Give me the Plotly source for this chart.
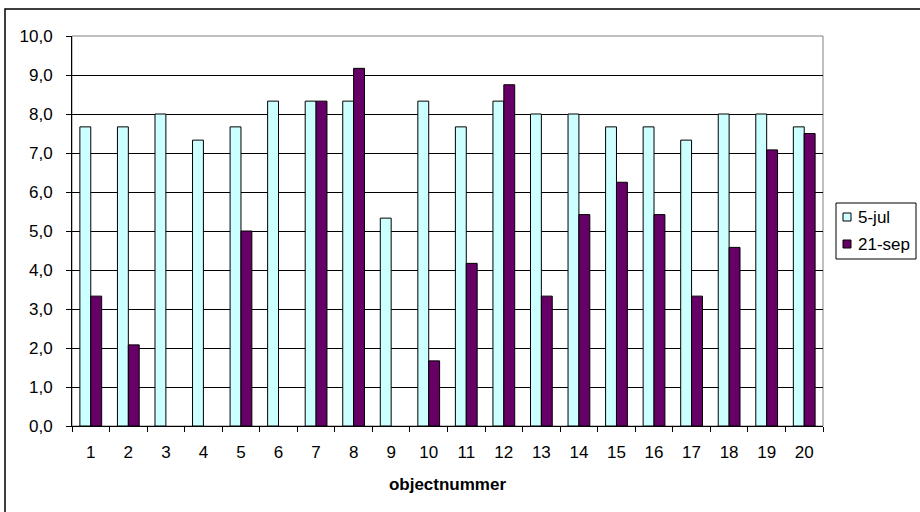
import plotly.graph_objects as go

# Objectnummers en scores per meetdatum
objecten = [str(i) for i in range(1, 21)]
jul_5 = [7.67, 7.67, 8.0, 7.33, 7.67, 8.33, 8.33, 8.33, 5.33, 8.33,
         7.67, 8.33, 8.0, 8.0, 7.67, 7.67, 7.33, 8.0, 8.0, 7.67]
sep_21 = [3.33, 2.08, None, None, 5.0, None, 8.33, 9.17, None, 1.67,
          4.17, 8.75, 3.33, 5.42, 6.25, 5.42, 3.33, 4.58, 7.08, 7.5]
y_ticks = [0, 1, 2, 3, 4, 5, 6, 7, 8, 9, 10]
series_names = ["5-jul", "21-sep"]
series_colors = ["#CCFFFF", "#660066"]

FONT = "Liberation Sans, Arial, sans-serif"
FS = 17

# plot area in pixels
L, R, T, B = 72, 823, 36, 426
W, H = R - L, B - T


def px(x):
    return (x - L) / W


def py(y):
    return (B - y) / H


fig = go.Figure()
for name, vals, col in zip(series_names, [jul_5, sep_21], series_colors):
    fig.add_trace(go.Bar(x=objecten, y=vals, name=name, showlegend=False,
                         marker=dict(color=col, line=dict(color="#000000", width=1))))

shapes = [
    # plot area border
    dict(type="rect", xref="paper", yref="paper", x0=0, x1=1, y0=0, y1=1,
         line=dict(color="#808080", width=1), layer="below"),
    # outer chart border
    dict(type="rect", xref="paper", yref="paper",
         x0=px(5), x1=px(930), y0=py(530), y1=py(9),
         line=dict(color="#000000", width=1.5)),
    # legend box
    dict(type="rect", xref="paper", yref="paper",
         x0=px(836), x1=px(916), y0=py(259), y1=py(203),
         line=dict(color="#000000", width=1), fillcolor="white"),
]
annotations = []
for i, (name, col) in enumerate(zip(series_names, series_colors)):
    yc = 217 + 27 * i
    shapes.append(dict(type="rect", xref="paper", yref="paper",
                       x0=px(843), x1=px(851), y0=py(yc + 4), y1=py(yc - 4),
                       line=dict(color="#000000", width=1), fillcolor=col))
    annotations.append(dict(text=name, xref="paper", yref="paper",
                            x=px(856), y=py(yc), xanchor="left", yanchor="middle",
                            showarrow=False, font=dict(size=FS)))

fig.update_layout(
    width=920, height=512,
    margin=dict(l=L, r=920 - R, t=T, b=512 - B, autoexpand=False),
    paper_bgcolor="white", plot_bgcolor="white",
    separators=",.",
    barmode="group", bargap=0.42, bargroupgap=0,
    font=dict(family=FONT, size=FS, color="#000000"),
    showlegend=False,
    shapes=shapes,
    annotations=annotations,
)

fig.update_xaxes(
    type="category", tickson="boundaries",
    ticks="outside", ticklen=5, tickcolor="#000000",
    showline=True, linecolor="#000000", linewidth=1,
    showgrid=False, tickfont=dict(size=FS), ticklabelstandoff=11,
    title=dict(text="<b>objectnummer</b>", font=dict(size=FS), standoff=16),
)
fig.update_yaxes(
    range=[0, 10], tickvals=y_ticks, tickformat=".1f",
    ticks="outside", ticklen=5, tickcolor="#000000",
    showline=True, linecolor="#000000", linewidth=1,
    showgrid=True, gridcolor="#000000", gridwidth=1,
    zeroline=False, tickfont=dict(size=FS), ticklabelstandoff=10,
)

fig.write_html("out.html")
